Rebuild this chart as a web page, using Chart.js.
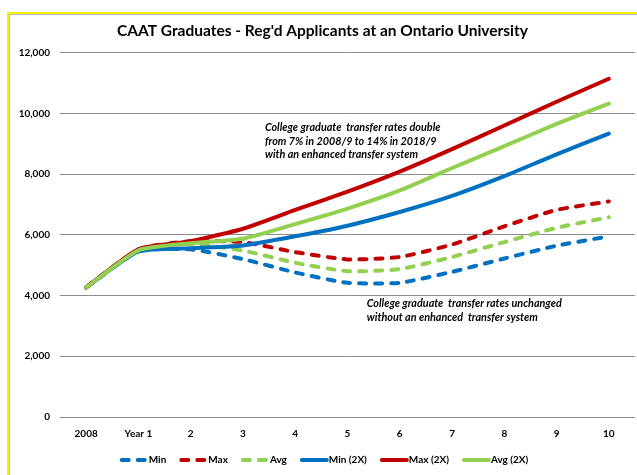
<!DOCTYPE html>
<html>
<head>
<meta charset="utf-8">
<script src="https://cdn.jsdelivr.net/npm/chart.js@4/dist/chart.umd.min.js"></script>
<style>
  html, body { margin: 0; padding: 0; background: #fff; }
  #wrap { position: relative; width: 637px; height: 475px; overflow: hidden; }
  #frame {
    position: absolute; left: 7px; top: 12px; width: 700px; height: 520px;
    border-left: 2px solid #f2f200; border-top: 2px solid #f2f200;
    box-shadow: inset 1px 1px 0 #b8b8c8;
  }
  canvas { position: absolute; left: 0; top: 0; }
</style>
</head>
<body>
<div id="wrap">
  <div id="frame"></div>
  <canvas id="chart" width="637" height="475"></canvas>
</div>
<script>
// --- data ---
const years = ['2008', 'Year 1', '2', '3', '4', '5', '6', '7', '8', '9', '10'];
const minBase = [4270, 5450, 5520, 5200, 4760, 4420, 4420, 4780, 5220, 5640, 5950];
const maxBase = [4270, 5520, 5790, 5760, 5430, 5190, 5270, 5680, 6280, 6820, 7100];
const avgBase = [4270, 5490, 5700, 5480, 5080, 4800, 4870, 5270, 5760, 6230, 6580];
const min2x = [4270, 5450, 5560, 5650, 5950, 6300, 6750, 7280, 7930, 8650, 9330];
const max2x = [4270, 5520, 5790, 6200, 6820, 7420, 8080, 8820, 9600, 10380, 11140];
const avg2x = [4270, 5490, 5720, 5870, 6350, 6860, 7460, 8200, 8920, 9650, 10320];
const yTicks = [0, 2000, 4000, 6000, 8000, 10000, 12000];

const noteDouble = ['College graduate  transfer rates double', 'from 7% in 2008/9 to 14% in 2018/9', 'with an enhanced transfer system'];
const noteSame = ['College graduate  transfer rates unchanged', 'without an enhanced  transfer system'];

const BLUE = '#0070c0';
const RED = '#c00000';
const GREEN = '#92d050';
const INK = '#000';
const FONT = 'Lato, "Open Sans", sans-serif';
const SAMPLE_W = 27;

function series(label, data, color, dashed, idx) {
  return {
    label: label,
    data: data,
    borderColor: color,
    backgroundColor: color,
    borderWidth: 4,
    borderDash: dashed ? [7, 9] : [],
    borderCapStyle: 'round',
    borderJoinStyle: 'round',
    pointRadius: 0,
    tension: 0.18,
    fill: false,
    order: 5 - idx // later series drawn on top, like Excel
  };
}

// text notes, anchored on the scales
const notesPlugin = {
  id: 'notes',
  afterDatasetsDraw(chart) {
    const {ctx, scales: {x, y}} = chart;
    ctx.save();
    ctx.fillStyle = INK;
    ctx.font = 'italic bold 10.8px ' + FONT;
    ctx.textBaseline = 'middle';
    ctx.textAlign = 'left';
    let px = x.getPixelForValue(3.42), py = y.getPixelForValue(9525);
    noteDouble.forEach((t, i) => ctx.fillText(t, px, py + i * 13.5));
    px = x.getPixelForValue(5.37); py = y.getPixelForValue(3740);
    noteSame.forEach((t, i) => ctx.fillText(t, px, py + i * 14));
    ctx.restore();
  }
};

// legend line samples (the built-in point style drops the dash)
const legendLines = {
  id: 'legendLines',
  afterDraw(chart) {
    const lg = chart.legend;
    if (!lg || !lg.legendHitBoxes) return;
    const {ctx} = chart;
    lg.legendItems.forEach((item, i) => {
      const box = lg.legendHitBoxes[i];
      const ds = chart.data.datasets[item.datasetIndex];
      const yy = box.top + box.height / 2;
      ctx.save();
      ctx.strokeStyle = ds.borderColor;
      ctx.lineWidth = ds.borderWidth;
      ctx.lineCap = 'round';
      ctx.setLineDash(ds.borderDash);
      ctx.beginPath();
      ctx.moveTo(box.left + 5, yy);
      ctx.lineTo(box.left + SAMPLE_W + 3, yy);
      ctx.stroke();
      ctx.restore();
    });
  }
};

new Chart(document.getElementById('chart').getContext('2d'), {
  type: 'line',
  data: {
    labels: years,
    datasets: [
      series('Min', minBase, BLUE, true, 0),
      series('Max', maxBase, RED, true, 1),
      series('Avg', avgBase, GREEN, true, 2),
      series('Min (2X)', min2x, BLUE, false, 3),
      series('Max (2X)', max2x, RED, false, 4),
      series('Avg (2X)', avg2x, GREEN, false, 5)
    ]
  },
  options: {
    responsive: false,
    animation: false,
    layout: { padding: { left: 10, right: 2, top: 12, bottom: 0 } },
    scales: {
      x: {
        offset: true,
        grid: { display: false, drawTicks: false },
        border: { display: false },
        ticks: { color: INK, padding: 11, maxRotation: 0, autoSkip: false,
                 font: { family: FONT, size: 10, weight: 'bold' } },
        afterFit: s => { s.height = 28; }
      },
      y: {
        min: 0,
        max: 12000,
        afterBuildTicks: s => { s.ticks = yTicks.map(v => ({ value: v })); },
        grid: { color: '#8c8c8c', lineWidth: 1, drawTicks: false },
        border: { display: false },
        ticks: { color: INK, padding: 10,
                 font: { family: FONT, size: 10, weight: 'bold' },
                 callback: v => v.toLocaleString('en-US') },
        afterFit: s => { s.width = 50; }
      }
    },
    plugins: {
      title: {
        display: true,
        text: "CAAT Graduates - Reg'd Applicants at an Ontario University",
        color: INK,
        font: { family: FONT, size: 15.5, weight: 'bold' },
        padding: { top: 10, bottom: 12 }
      },
      legend: {
        position: 'bottom',
        labels: {
          boxWidth: SAMPLE_W,
          boxHeight: 4,
          padding: 10,
          color: INK,
          font: { family: FONT, size: 10, weight: 'bold' },
          sort: (a, b) => a.datasetIndex - b.datasetIndex,
          generateLabels: chart => Chart.defaults.plugins.legend.labels.generateLabels(chart).map(it => ({
            ...it, fillStyle: 'rgba(0,0,0,0)', strokeStyle: 'rgba(0,0,0,0)', lineWidth: 0
          }))
        }
      },
      tooltip: { enabled: false }
    }
  },
  plugins: [notesPlugin, legendLines]
});
</script>
</body>
</html>
